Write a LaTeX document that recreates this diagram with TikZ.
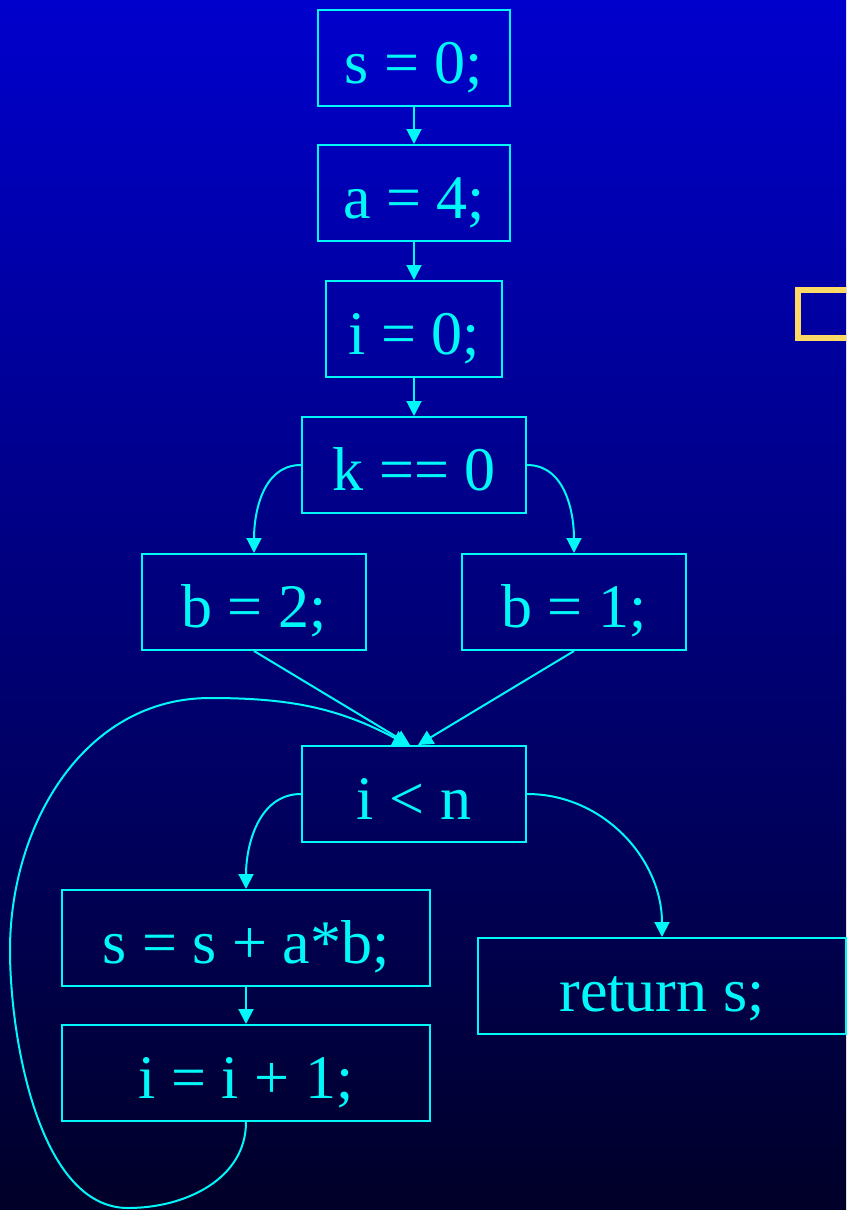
\documentclass[tikz,border=0pt]{standalone}
\usepackage{fontspec}
\setmainfont{Liberation Serif}
\usetikzlibrary{arrows.meta}
\definecolor{linecyan}{RGB}{0,248,248}
\definecolor{topblue}{RGB}{0,0,205}
\definecolor{botblue}{RGB}{0,0,40}
\definecolor{markyellow}{RGB}{255,217,102}
\tikzset{
  blk/.style={draw=linecyan, line width=2pt, text=linecyan, inner sep=0pt,
    minimum height=96pt, text height=50pt, text depth=0pt,
    font=\fontsize{62}{62}\selectfont},
  flow/.style={draw=linecyan, line width=2pt, -{Triangle[length=15pt,width=15pt]}}
}
\begin{document}
\begin{tikzpicture}[x=1pt,y=1pt]
  \useasboundingbox (0,0) rectangle (846,-1210);
  \shade[top color=topblue, bottom color=botblue] (0,0) rectangle (846,-1210);
  \begin{scope}
    \clip (0,0) rectangle (846,-1210);
    \draw[markyellow, line width=6pt] (798,-290) rectangle (870,-338);
  \end{scope}

  \node[blk, minimum width=192pt] (s0) at (414,-58) {s = 0;};
  \node[blk, minimum width=192pt] (a4) at (414,-193) {a = 4;};
  \node[blk, minimum width=176pt] (i0) at (414,-329) {i = 0;};
  \node[blk, minimum width=224pt] (k0) at (414,-465) {k == 0};
  \node[blk, minimum width=224pt] (b2) at (254,-602) {b = 2;};
  \node[blk, minimum width=224pt] (b1) at (574,-602) {b = 1;};
  \node[blk, minimum width=224pt] (cond) at (414,-794) {i < n};
  \node[blk, minimum width=368pt] (body) at (246,-938) {s = s + a*b;};
  \node[blk, minimum width=368pt] (inc) at (246,-1073) {i = i + 1;};
  \node[blk, minimum width=368pt] (ret) at (662,-986) {return s;};

  \coordinate (lb) at (128,-1208);
  \coordinate (ll) at (10,-950);
  \coordinate (lt) at (210,-698);

  \draw[flow] (s0) -- (a4);
  \draw[flow] (a4) -- (i0);
  \draw[flow] (i0) -- (k0);
  \draw[flow] (k0.west) to[out=180,in=90] (b2.north);
  \draw[flow] (k0.east) to[out=0,in=90] (b1.north);
  \draw[flow] (b2.south) -- ([xshift=-4pt]cond.north);
  \draw[flow] (b1.south) -- ([xshift=4pt]cond.north);
  \draw[flow] (cond.west) to[out=180,in=90] (body.north);
  \draw[flow] (cond.east) to[out=0,in=90] (ret.north);
  \draw[flow] (body) -- (inc);
  % back edge of the loop
  \draw[flow] (inc.south) to[out=-90,in=0] (lb) to[out=180,in=-90,looseness=0.8] (ll)
    to[out=90,in=180] (lt) to[out=0,in=152] ([xshift=-6pt]cond.north);
\end{tikzpicture}
\end{document}
